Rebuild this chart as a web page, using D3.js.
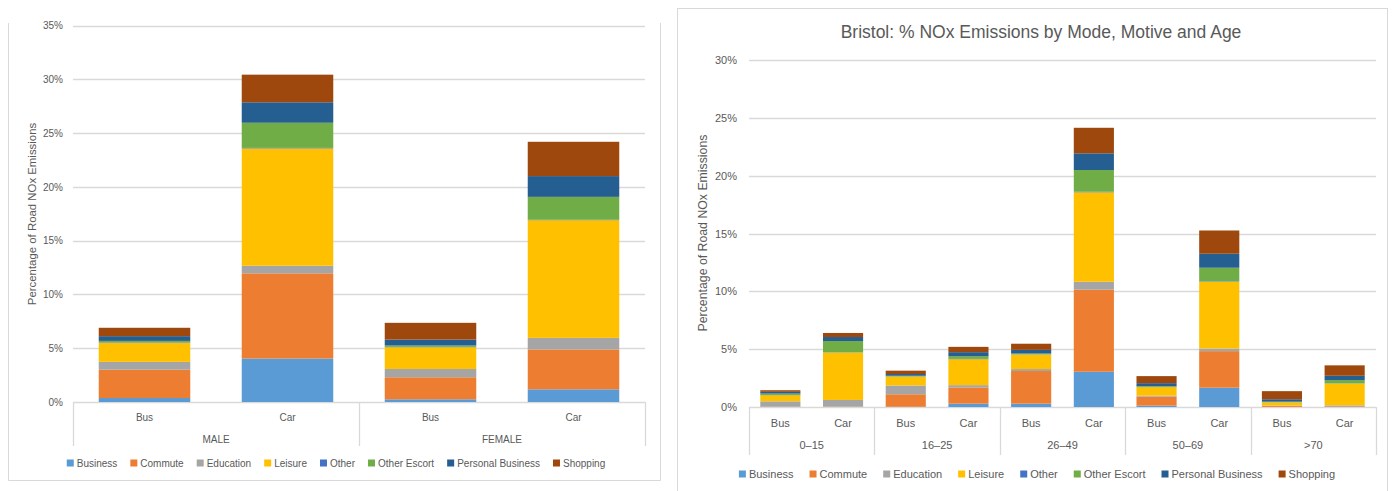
<!DOCTYPE html>
<html>
<head>
<meta charset="utf-8">
<script src="https://cdn.jsdelivr.net/npm/d3@7"></script>
<style>
  body { margin: 0; background: #fff; }
  svg text { font-family: "Liberation Sans", Arial, sans-serif; fill: #595959; }
</style>
</head>
<body>
<div id="chart"></div>
<script>
// motives (stack order, bottom to top) and their Excel colours
const motives = ['Business', 'Commute', 'Education', 'Leisure', 'Other', 'Other Escort', 'Personal Business', 'Shopping'];
const motiveColors = ['#5b9bd5', '#ed7d31', '#a5a5a5', '#ffc000', '#4472c4', '#70ad47', '#255e91', '#9e480e'];
const modes = ['Bus', 'Car'];

// left chart: by gender (segment values in %, motive order)
const genders = ['MALE', 'FEMALE'];
const genderValues = [
    [0.37, 2.63, 0.73, 1.77, 0.05, 0.13, 0.44, 0.78],   // male bus
    [4.04, 7.92, 0.71, 10.90, 0.05, 2.34, 1.90, 2.57],  // male car
    [0.25, 2.05, 0.77, 2.02, 0.03, 0.13, 0.55, 1.56],   // female bus
    [1.18, 3.70, 1.08, 10.94, 0.04, 2.13, 1.93, 3.19]   // female car
];
const genderTicks = [0, 5, 10, 15, 20, 25, 30, 35];

// right chart: by age
const ages = ['0–15', '16–25', '26–49', '50–69', '>70'];
const ageValues = [
    [0.02, 0.02, 0.45, 0.53, 0.02, 0.12, 0.15, 0.14],
    [0.02, 0.03, 0.56, 4.10, 0.02, 0.97, 0.35, 0.35],
    [0.02, 1.08, 0.76, 0.76, 0.02, 0.06, 0.15, 0.29],
    [0.29, 1.40, 0.20, 2.24, 0.03, 0.23, 0.35, 0.46],
    [0.29, 2.82, 0.17, 1.25, 0.02, 0.07, 0.32, 0.53],
    [3.05, 7.09, 0.69, 7.73, 0.05, 1.88, 1.44, 2.21],
    [0.12, 0.78, 0.09, 0.73, 0.02, 0.06, 0.26, 0.61],
    [1.67, 3.16, 0.23, 5.77, 0.04, 1.17, 1.21, 2.01],
    [0.01, 0.08, 0.03, 0.29, 0.01, 0.04, 0.21, 0.70],
    [0.04, 0.04, 0.06, 1.89, 0.02, 0.28, 0.37, 0.90]
];
const ageTicks = [0, 5, 10, 15, 20, 25, 30];

const svg = d3.select('#chart').append('svg')
    .attr('width', 1392)
    .attr('height', 491);

const color = d3.scaleOrdinal().domain(motives).range(motiveColors);

function drawChart(g, groups, values, ticks, opt) {
    const rows = groups.flatMap((grp, i) => modes.map((m, j) => {
        const r = {key: grp + '|' + m, group: grp, mode: m};
        motives.forEach((k, n) => r[k] = values[i * modes.length + j][n]);
        return r;
    }));

    const x = d3.scaleBand()
        .domain(rows.map(d => d.key))
        .range([opt.left, opt.right])
        .paddingInner(0.36)
        .paddingOuter(0.18);

    const y = d3.scaleLinear()
        .domain([0, d3.max(ticks)])
        .range([opt.zero, opt.top]);

    // gridlines
    g.append('g')
        .selectAll('line')
        .data(ticks)
        .join('line')
        .attr('x1', opt.left).attr('x2', opt.right)
        .attr('y1', d => Math.round(y(d)) + 0.5).attr('y2', d => Math.round(y(d)) + 0.5)
        .attr('stroke', '#d9d9d9')
        .attr('stroke-width', 1.3);

    // y axis labels
    const yAxis = d3.axisLeft(y)
        .tickValues(ticks)
        .tickFormat(d => d + '%')
        .tickSize(0)
        .tickPadding(opt.left - opt.tickEnd);
    const yg = g.append('g')
        .attr('transform', 'translate(' + opt.left + ',0)')
        .call(yAxis);
    yg.select('.domain').remove();
    yg.selectAll('text')
        .attr('font-size', opt.fontSize)
        .attr('font-family', null)
        .attr('fill', null);

    // stacked bars
    const stacked = d3.stack().keys(motives)(rows);
    g.append('g')
        .selectAll('g')
        .data(stacked)
        .join('g')
        .attr('fill', d => color(d.key))
        .selectAll('rect')
        .data(d => d)
        .join('rect')
        .attr('x', d => x(d.data.key))
        .attr('width', x.bandwidth())
        .attr('y', d => y(d[1]))
        .attr('height', d => y(d[0]) - y(d[1]));

    // category axis (mode + group)
    const groupW = (opt.right - opt.left) / groups.length;
    const bounds = d3.range(groups.length + 1).map(i => opt.left + i * groupW);
    g.append('g')
        .selectAll('line')
        .data(bounds)
        .join('line')
        .attr('x1', d => Math.round(d) + 0.5).attr('x2', d => Math.round(d) + 0.5)
        .attr('y1', opt.zero).attr('y2', opt.axisBottom)
        .attr('stroke', '#d9d9d9')
        .attr('stroke-width', 1.3);

    g.append('g')
        .selectAll('text')
        .data(rows)
        .join('text')
        .attr('x', d => x(d.key) + x.bandwidth() / 2)
        .attr('y', opt.modeY)
        .attr('text-anchor', 'middle')
        .attr('dominant-baseline', 'central')
        .attr('font-size', opt.fontSize)
        .text(d => d.mode);

    g.append('g')
        .selectAll('text')
        .data(groups)
        .join('text')
        .attr('x', (d, i) => opt.left + (i + 0.5) * groupW)
        .attr('y', opt.groupY)
        .attr('text-anchor', 'middle')
        .attr('dominant-baseline', 'central')
        .attr('font-size', opt.fontSize)
        .text(d => d);

    // y axis title
    g.append('text')
        .attr('transform', 'translate(' + opt.yTitleX + ',' + opt.yTitleY + ') rotate(-90)')
        .attr('text-anchor', 'middle')
        .attr('dominant-baseline', 'central')
        .attr('font-size', opt.yTitleSize)
        .text('Percentage of Road NOx Emissions');

    if (opt.title) {
        g.append('text')
            .attr('x', opt.titleX)
            .attr('y', opt.titleY)
            .attr('text-anchor', 'middle')
            .attr('dominant-baseline', 'central')
            .attr('font-size', opt.titleSize)
            .text(opt.title);
    }

    // legend, centred on the chart box
    const legend = g.append('g');
    const items = legend.selectAll('g')
        .data(motives)
        .join('g');
    items.append('rect')
        .attr('width', 7).attr('height', 7)
        .attr('y', opt.legendY - 3.5)
        .attr('fill', d => color(d));
    items.append('text')
        .attr('x', 10)
        .attr('y', opt.legendY)
        .attr('dominant-baseline', 'central')
        .attr('font-size', opt.fontSize)
        .text(d => d);
    let pos = 0;
    items.each(function() {
        d3.select(this).attr('transform', 'translate(' + pos + ',0)');
        pos += 10 + d3.select(this).select('text').node().getComputedTextLength() + opt.legendGap;
    });
    pos -= opt.legendGap;
    legend.attr('transform', 'translate(' + (opt.legendCenter - pos / 2) + ',0)');
}

// white background
svg.append('rect').attr('width', 1392).attr('height', 491).attr('fill', '#fff');

// left chart frame (top is cut off in the screenshot)
svg.append('path')
    .attr('d', 'M8.5,23 V480.5 H660.5 V23')
    .attr('fill', 'none')
    .attr('stroke', '#d9d9d9');

// right chart frame
svg.append('rect')
    .attr('x', 677.5).attr('y', 8.5)
    .attr('width', 710).attr('height', 500)
    .attr('fill', 'none')
    .attr('stroke', '#d9d9d9');

drawChart(svg.append('g'), genders, genderValues, genderTicks, {
    left: 73, right: 645, zero: 402, top: 25.5, tickEnd: 63,
    axisBottom: 446, modeY: 417, groupY: 439,
    fontSize: 10, yTitleX: 32, yTitleY: 214, yTitleSize: 11.4,
    legendY: 463, legendGap: 13, legendCenter: 336
});

drawChart(svg.append('g'), ages, ageValues, ageTicks, {
    left: 749, right: 1376, zero: 407, top: 60, tickEnd: 737,
    axisBottom: 455, modeY: 423, groupY: 445,
    fontSize: 11, yTitleX: 703, yTitleY: 233, yTitleSize: 12.3,
    legendY: 474, legendGap: 16, legendCenter: 1037,
    title: 'Bristol: % NOx Emissions by Mode, Motive and Age',
    titleX: 1041, titleY: 32, titleSize: 17.5
});
</script>
</body>
</html>
